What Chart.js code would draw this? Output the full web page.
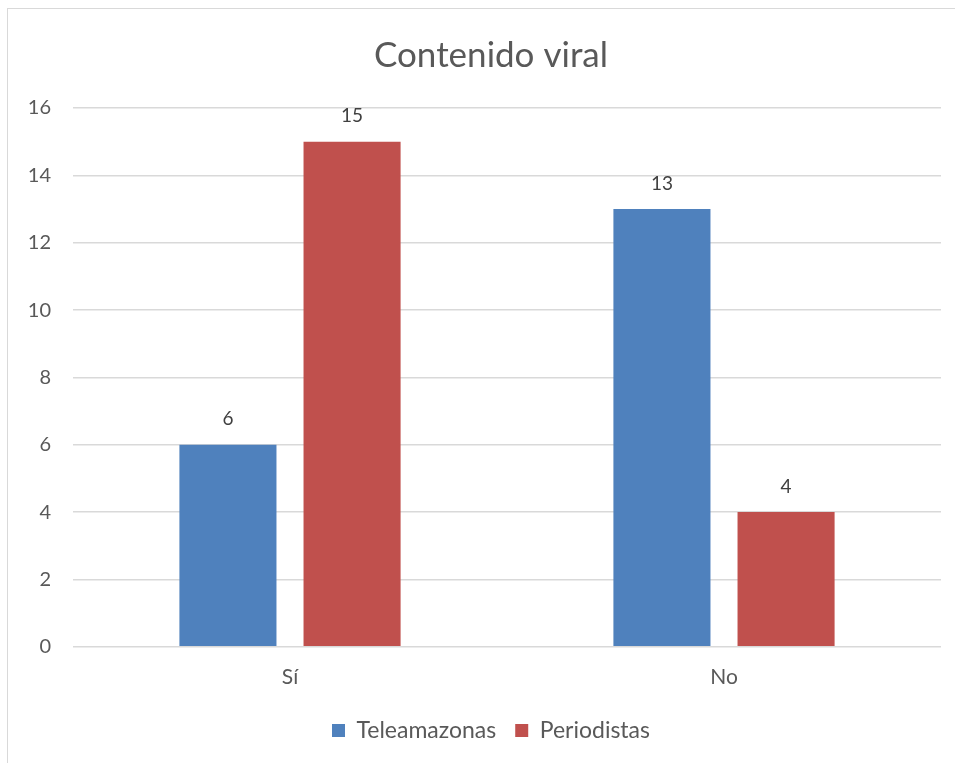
<!DOCTYPE html>
<html>
<head>
<meta charset="utf-8">
<script src="https://cdn.jsdelivr.net/npm/chart.js@4/dist/chart.umd.min.js"></script>
<style>
  html, body { margin: 0; padding: 0; background: #fff; overflow: hidden; }
  #frame {
    position: absolute; left: 7px; top: 8px; width: 980px; height: 770px;
    border-left: 1px solid #d9d9d9; border-top: 1px solid #d9d9d9;
  }
  #chart { position: absolute; left: 0; top: 0; }
</style>
</head>
<body>
<div id="frame"><canvas id="chart" width="966" height="754"></canvas></div>
<script>
// chart data
const categories = ['Sí', 'No'];
const teleamazonas = [6, 13];
const periodistas = [15, 4];
const yTicks = [0, 2, 4, 6, 8, 10, 12, 14, 16];

const fontName = 'Lato, "Open Sans", sans-serif';
const textColor = '#595959';

// draws the value above each bar
const valueLabels = {
    id: 'valueLabels',
    afterDatasetsDraw(chart) {
        const ctx = chart.ctx;
        ctx.save();
        ctx.font = '19px ' + fontName;
        ctx.fillStyle = '#404040';
        ctx.textAlign = 'center';
        ctx.textBaseline = 'bottom';
        chart.data.datasets.forEach((ds, i) => {
            chart.getDatasetMeta(i).data.forEach((bar, j) => {
                ctx.fillText(ds.data[j], bar.x, bar.y - 16);
            });
        });
        ctx.restore();
    }
};

const ctx = document.getElementById('chart').getContext('2d');
new Chart(ctx, {
    type: 'bar',
    data: {
        labels: categories,
        datasets: [
            {
                label: 'Teleamazonas',
                data: teleamazonas,
                backgroundColor: '#4f81bd',
                borderWidth: 0,
                categoryPercentage: 0.572,
                barPercentage: 0.782
            },
            {
                label: 'Periodistas',
                data: periodistas,
                backgroundColor: '#c0504d',
                borderWidth: 0,
                categoryPercentage: 0.572,
                barPercentage: 0.782
            }
        ]
    },
    options: {
        responsive: false,
        animation: false,
        layout: { padding: { left: 0, right: 0, top: 0, bottom: 11 } },
        plugins: {
            title: {
                display: true,
                text: 'Contenido viral',
                color: textColor,
                font: { family: fontName, size: 35, weight: 'normal' },
                padding: { top: 26, bottom: 31 }
            },
            legend: {
                position: 'bottom',
                labels: {
                    color: textColor,
                    font: { family: fontName, size: 23 },
                    boxWidth: 13,
                    boxHeight: 13,
                    padding: 19
                }
            },
            tooltip: { enabled: false }
        },
        scales: {
            x: {
                grid: { display: false },
                border: { display: false },
                ticks: { color: textColor, font: { family: fontName, size: 21 }, padding: 10 }
            },
            y: {
                min: 0,
                max: 16,
                afterBuildTicks: axis => { axis.ticks = yTicks.map(v => ({ value: v })); },
                afterFit: axis => { axis.width = 65; },
                grid: { color: '#d9d9d9', lineWidth: 1.5, drawTicks: false },
                border: { display: false },
                ticks: { color: textColor, font: { family: fontName, size: 20 }, padding: 22 }
            },
            // empty right-hand space so the plot ends where the reference's does
            yRight: {
                position: 'right',
                min: 0,
                max: 16,
                afterFit: axis => { axis.width = 33; },
                grid: { display: false },
                border: { display: false },
                ticks: { display: false }
            }
        }
    },
    plugins: [valueLabels]
});
</script>
</body>
</html>
